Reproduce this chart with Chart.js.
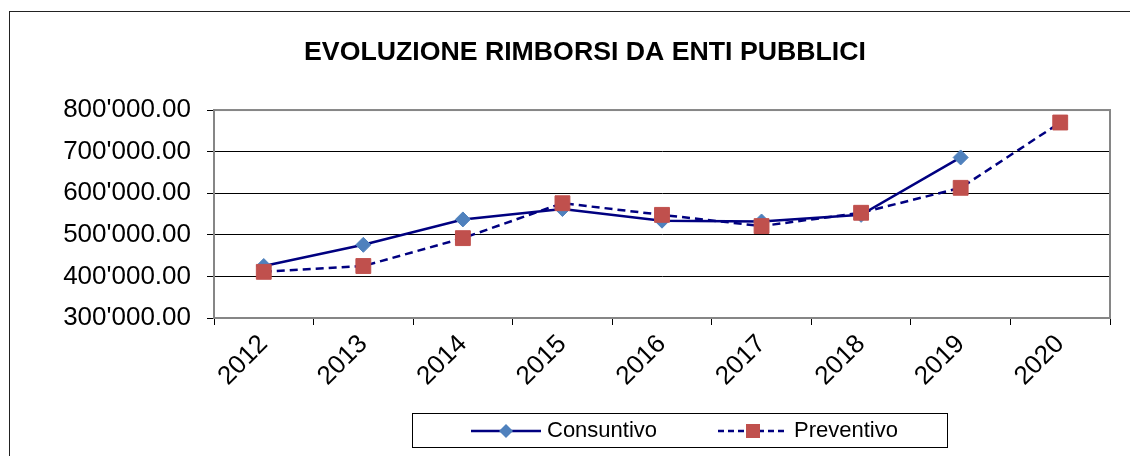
<!DOCTYPE html>
<html>
<head>
<meta charset="utf-8">
<script src="https://cdn.jsdelivr.net/npm/chart.js@4"></script>
<style>
    body { margin: 0; background: #fff; }
    canvas { display: block; }
</style>
</head>
<body>
<canvas id="rimborsiChart" width="1130" height="456"></canvas>
<script>
const years = ['2012', '2013', '2014', '2015', '2016', '2017', '2018', '2019', '2020'];
const consuntivo = [425000, 476000, 537000, 562000, 534000, 532000, 548000, 686000, null];
const preventivo = [411000, 425000, 492000, 576000, 548000, 521000, 553000, 613000, 770000];
const yTicks = [300000, 400000, 500000, 600000, 700000, 800000];

const FONT = '"Liberation Sans", Arial, sans-serif';
const NAVY = '#000080';
const BLUE = '#4f81bd';
const RED = '#c0504d';

// 800000 -> "800'000.00"
function formatValue(v) {
    const parts = v.toFixed(2).split('.');
    return parts[0].replace(/\B(?=(\d{3})+(?!\d))/g, "'") + '.' + parts[1];
}

// Outer frame, plot border and the boxed legend
const framePlugin = {
    id: 'frame',
    beforeDraw(chart) {
        const ctx = chart.ctx;
        ctx.save();
        ctx.fillStyle = '#fff';
        ctx.fillRect(0, 0, chart.width, chart.height);
        ctx.strokeStyle = '#222';
        ctx.lineWidth = 1;
        ctx.strokeRect(9.5, 11.5, chart.width + 20, chart.height + 20);
        ctx.restore();
    },
    afterDatasetsDraw(chart) {
        const ctx = chart.ctx;
        const a = chart.chartArea;
        ctx.save();
        ctx.strokeStyle = '#868686';
        ctx.lineWidth = 2;
        ctx.strokeRect(a.left, a.top, a.right - a.left, a.bottom - a.top);
        ctx.restore();
    },
    afterDraw(chart) {
        const ctx = chart.ctx;
        ctx.save();
        ctx.strokeStyle = '#000';
        ctx.lineWidth = 1;
        ctx.strokeRect(412.5, 413.5, 535, 34);

        const items = [
            { x: 471, text: 'Consuntivo', dash: [], marker: 'diamond', color: BLUE },
            { x: 718, text: 'Preventivo', dash: [6, 4], marker: 'square', color: RED }
        ];
        const cy = 431;
        items.forEach(it => {
            ctx.strokeStyle = NAVY;
            ctx.lineWidth = 2.5;
            ctx.setLineDash(it.dash);
            ctx.beginPath();
            ctx.moveTo(it.x, cy);
            ctx.lineTo(it.x + 70, cy);
            ctx.stroke();
            ctx.setLineDash([]);

            const mx = it.x + 35;
            ctx.fillStyle = it.color;
            ctx.beginPath();
            if (it.marker === 'diamond') {
                ctx.moveTo(mx, cy - 7);
                ctx.lineTo(mx + 7, cy);
                ctx.lineTo(mx, cy + 7);
                ctx.lineTo(mx - 7, cy);
                ctx.closePath();
            } else {
                ctx.rect(mx - 7, cy - 7, 14, 14);
            }
            ctx.fill();

            ctx.fillStyle = '#000';
            ctx.font = '22px ' + FONT;
            ctx.textBaseline = 'middle';
            ctx.textAlign = 'left';
            ctx.fillText(it.text, it.x + 76, cy);
        });
        ctx.restore();
    }
};

const ctx = document.getElementById('rimborsiChart').getContext('2d');

new Chart(ctx, {
    type: 'line',
    data: {
        labels: years,
        datasets: [
            {
                label: 'Consuntivo',
                data: consuntivo,
                borderColor: NAVY,
                borderWidth: 2.5,
                pointStyle: 'rectRot',
                pointRadius: 7.5,
                pointBackgroundColor: BLUE,
                pointBorderColor: BLUE,
                pointBorderWidth: 1,
                tension: 0,
                order: 1
            },
            {
                label: 'Preventivo',
                data: preventivo,
                borderColor: NAVY,
                borderWidth: 2.5,
                borderDash: [8, 5],
                pointStyle: 'rect',
                pointRadius: 10.5,
                pointBackgroundColor: RED,
                pointBorderColor: RED,
                pointBorderWidth: 1,
                tension: 0,
                order: 0
            }
        ]
    },
    options: {
        responsive: false,
        animation: false,
        layout: { padding: { left: 60, right: 20, top: 0, bottom: 0 } },
        plugins: {
            legend: { display: false },
            tooltip: { enabled: false },
            title: {
                display: true,
                text: 'EVOLUZIONE RIMBORSI DA ENTI PUBBLICI',
                color: '#000',
                font: { family: FONT, size: 26.7, weight: 'bold' },
                padding: { top: 37, bottom: 41 }
            }
        },
        scales: {
            x: {
                offset: true,
                grid: { offset: true, drawOnChartArea: false, tickLength: 7, color: '#000' },
                border: { color: '#868686', width: 2 },
                ticks: {
                    color: '#000',
                    font: { family: FONT, size: 26 },
                    minRotation: 45,
                    maxRotation: 45,
                    padding: 4
                },
                afterFit: (scale) => { scale.height = 138; }
            },
            y: {
                min: 300000,
                max: 800000,
                afterBuildTicks: (scale) => { scale.ticks = yTicks.map(v => ({ value: v })); },
                grid: { color: '#000', lineWidth: 1, tickLength: 7 },
                border: { color: '#868686', width: 2 },
                ticks: {
                    color: '#000',
                    font: { family: FONT, size: 26 },
                    padding: 16,
                    callback: (v) => formatValue(v)
                },
                afterFit: (scale) => { scale.width = 154; }
            }
        }
    },
    plugins: [framePlugin]
});
</script>
</body>
</html>
